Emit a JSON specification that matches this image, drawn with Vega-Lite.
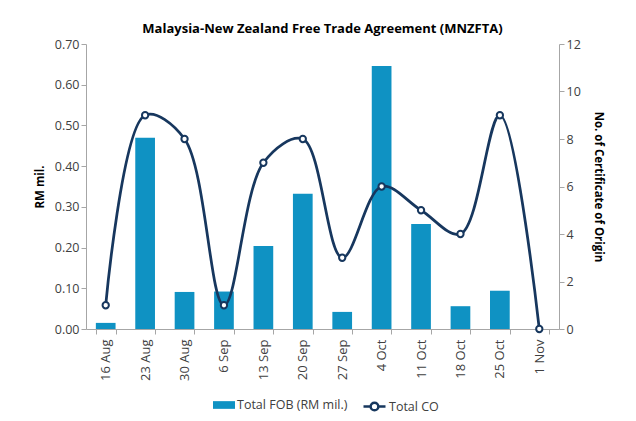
{
  "$schema": "https://vega.github.io/schema/vega-lite/v6.json",
  "width": 473,
  "height": 285,
  "autosize": {"type": "none"},
  "padding": {"left": 86, "top": 44, "right": 77, "bottom": 92},
  "background": "white",
  "config": {
    "view": {"stroke": null},
    "font": "Open Sans",
    "axis": {"labelFont": "Open Sans", "titleFont": "Open Sans", "labelColor": "#404040", "labelFontSize": 12.5, "titleFontSize": 11.5, "titleFontWeight": "bold", "titleColor": "#000000", "domainColor": "#A6A6A6", "tickColor": "#A6A6A6", "grid": false, "tickSize": 5, "labelOverlap": false}
  },
  "title": {"text": "Malaysia-New Zealand Free Trade Agreement (MNZFTA)", "fontSize": 13, "fontWeight": "bold", "font": "Open Sans", "color": "#000000", "offset": 2},
  "data": {"values": [
    {"week": "16 Aug", "fob": 0.015, "co": 1},
    {"week": "23 Aug", "fob": 0.47, "co": 9},
    {"week": "30 Aug", "fob": 0.091, "co": 8},
    {"week": "6 Sep", "fob": 0.092, "co": 1},
    {"week": "13 Sep", "fob": 0.204, "co": 7},
    {"week": "20 Sep", "fob": 0.332, "co": 8},
    {"week": "27 Sep", "fob": 0.042, "co": 3},
    {"week": "4 Oct", "fob": 0.646, "co": 6},
    {"week": "11 Oct", "fob": 0.258, "co": 5},
    {"week": "18 Oct", "fob": 0.056, "co": 4},
    {"week": "25 Oct", "fob": 0.094, "co": 9},
    {"week": "1 Nov", "fob": 0, "co": 0}
  ]},
  "encoding": {
    "x": {"field": "week", "type": "nominal", "sort": null,
      "scale": {"paddingInner": 0.5, "paddingOuter": 0.25},
      "axis": {"title": null, "labelAngle": -90, "tickBand": "extent", "labelPadding": 5, "labelAlign": "right", "labelBaseline": "middle", "labelFontSize": 13}}
  },
  "layer": [
    {
      "mark": {"type": "bar"},
      "encoding": {
        "y": {"field": "fob", "type": "quantitative",
          "scale": {"domain": [0, 0.7]},
          "axis": {"title": "RM mil.", "format": ".2f", "values": [0, 0.1, 0.2, 0.3, 0.4, 0.5, 0.6, 0.7], "titlePadding": 9}},
        "fill": {"datum": "Total FOB (RM mil.)", "scale": {"range": ["#0F92C3"]},
          "legend": {"title": null, "orient": "none", "legendX": 127, "legendY": 350, "symbolType": "M-1,-0.35H1V0.35H-1Z", "symbolSize": 484, "symbolStrokeWidth": 0, "labelFontSize": 12.5, "labelColor": "#404040", "labelFont": "Open Sans", "labelOffset": 2}}
      }
    },
    {
      "mark": {"type": "line", "interpolate": "catmull-rom", "strokeWidth": 2.75,
        "point": {"filled": false, "fill": "white", "size": 40, "strokeWidth": 2}},
      "encoding": {
        "y": {"field": "co", "type": "quantitative",
          "scale": {"domain": [0, 12]},
          "axis": {"title": "No. of Certificate of Origin", "orient": "right", "values": [0, 2, 4, 6, 8, 10, 12], "titlePadding": 12}},
        "stroke": {"datum": "Total CO", "scale": {"range": ["#17375E"]},
          "legend": {"title": null, "orient": "none", "legendX": 276, "legendY": 350, "symbolType": "M-1,0H-0.35M0.35,0H1M-0.35,0A0.35,0.35 0 1,0 0.35,0A0.35,0.35 0 1,0 -0.35,0Z", "symbolSize": 484, "symbolStrokeWidth": 2.5, "symbolFillColor": "white", "labelFontSize": 12.5, "labelColor": "#404040", "labelFont": "Open Sans", "labelOffset": 2}}
      }
    }
  ],
  "resolve": {"scale": {"y": "independent", "fill": "independent", "stroke": "independent"}}
}
